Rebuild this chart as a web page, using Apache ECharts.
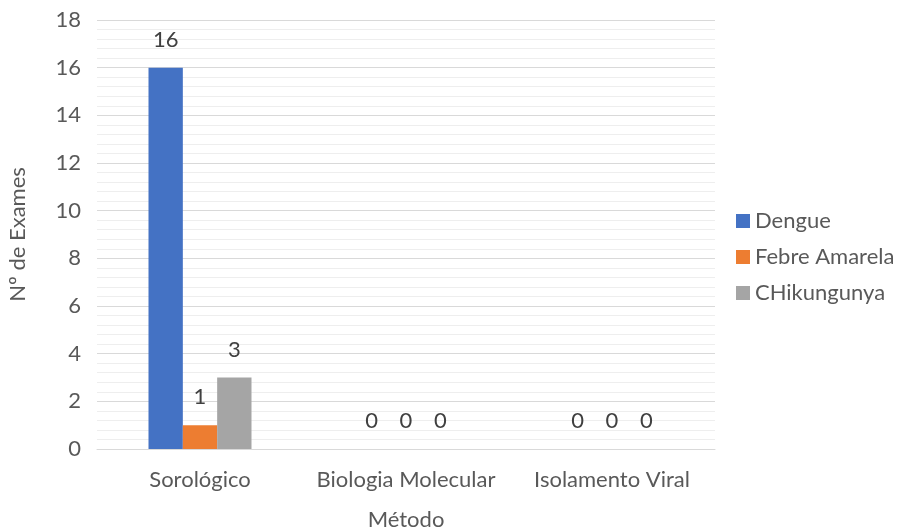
<!DOCTYPE html>
<html><head><meta charset="utf-8">
<script src="https://cdn.jsdelivr.net/npm/echarts@6/dist/echarts.min.js"></script>
<style>html,body{margin:0;padding:0;background:#fff}#c{width:901px;height:532px}</style>
</head><body><div id="c"></div>
<script>
const categories = ['Sorológico', 'Biologia Molecular', 'Isolamento Viral'];
const dengue = [16, 0, 0];
const febreAmarela = [1, 0, 0];
const chikungunya = [3, 0, 0];
const yTicks = {min: 0, max: 18, interval: 2};

const FONT = 'Lato';
const FS = 22;
const TXT = '#595959';
const lbl = {show: true, position: 'top', distance: 17, color: '#404040', fontSize: FS, fontFamily: FONT};
const chart = echarts.init(document.getElementById('c'));
chart.setOption({
  animation: false,
  textStyle: {fontFamily: FONT},
  grid: {left: 97, right: 186, top: 20, bottom: 83, containLabel: false, outerBoundsMode: 'none'},
  legend: {
    orient: 'vertical', left: 731, top: 205, itemGap: 14, itemWidth: 14, itemHeight: 14,
    icon: 'rect',
    textStyle: {color: TXT, fontSize: FS, fontFamily: FONT},
    data: ['Dengue', 'Febre Amarela', 'CHikungunya']
  },
  xAxis: {
    type: 'category', data: categories,
    axisTick: {show: false},
    axisLine: {lineStyle: {color: '#d9d9d9'}},
    axisLabel: {color: TXT, fontSize: FS, fontFamily: FONT, margin: 20, interval: 0},
    name: 'Método', nameLocation: 'middle', nameGap: 60,
    nameTextStyle: {color: TXT, fontSize: FS, fontFamily: FONT}
  },
  yAxis: {
    type: 'value', min: yTicks.min, max: yTicks.max, interval: yTicks.interval,
    axisLine: {show: false}, axisTick: {show: false},
    axisLabel: {color: TXT, fontSize: FS, fontFamily: FONT, margin: 16},
    splitLine: {lineStyle: {color: '#d9d9d9'}},
    minorTick: {show: false, splitNumber: 5},
    minorSplitLine: {show: true, lineStyle: {color: '#eeeeee'}},
    name: 'Nº de Exames', nameLocation: 'middle', nameGap: 68,
    nameTextStyle: {color: TXT, fontSize: FS, fontFamily: FONT}
  },
  series: [
    {name: 'Dengue', type: 'bar', data: dengue, barGap: '0%', barCategoryGap: '50%', itemStyle: {color: '#4472c4'}, label: lbl},
    {name: 'Febre Amarela', type: 'bar', data: febreAmarela, itemStyle: {color: '#ed7d31'}, label: lbl},
    {name: 'CHikungunya', type: 'bar', data: chikungunya, itemStyle: {color: '#a5a5a5'}, label: lbl}
  ]
});
</script></body></html>
